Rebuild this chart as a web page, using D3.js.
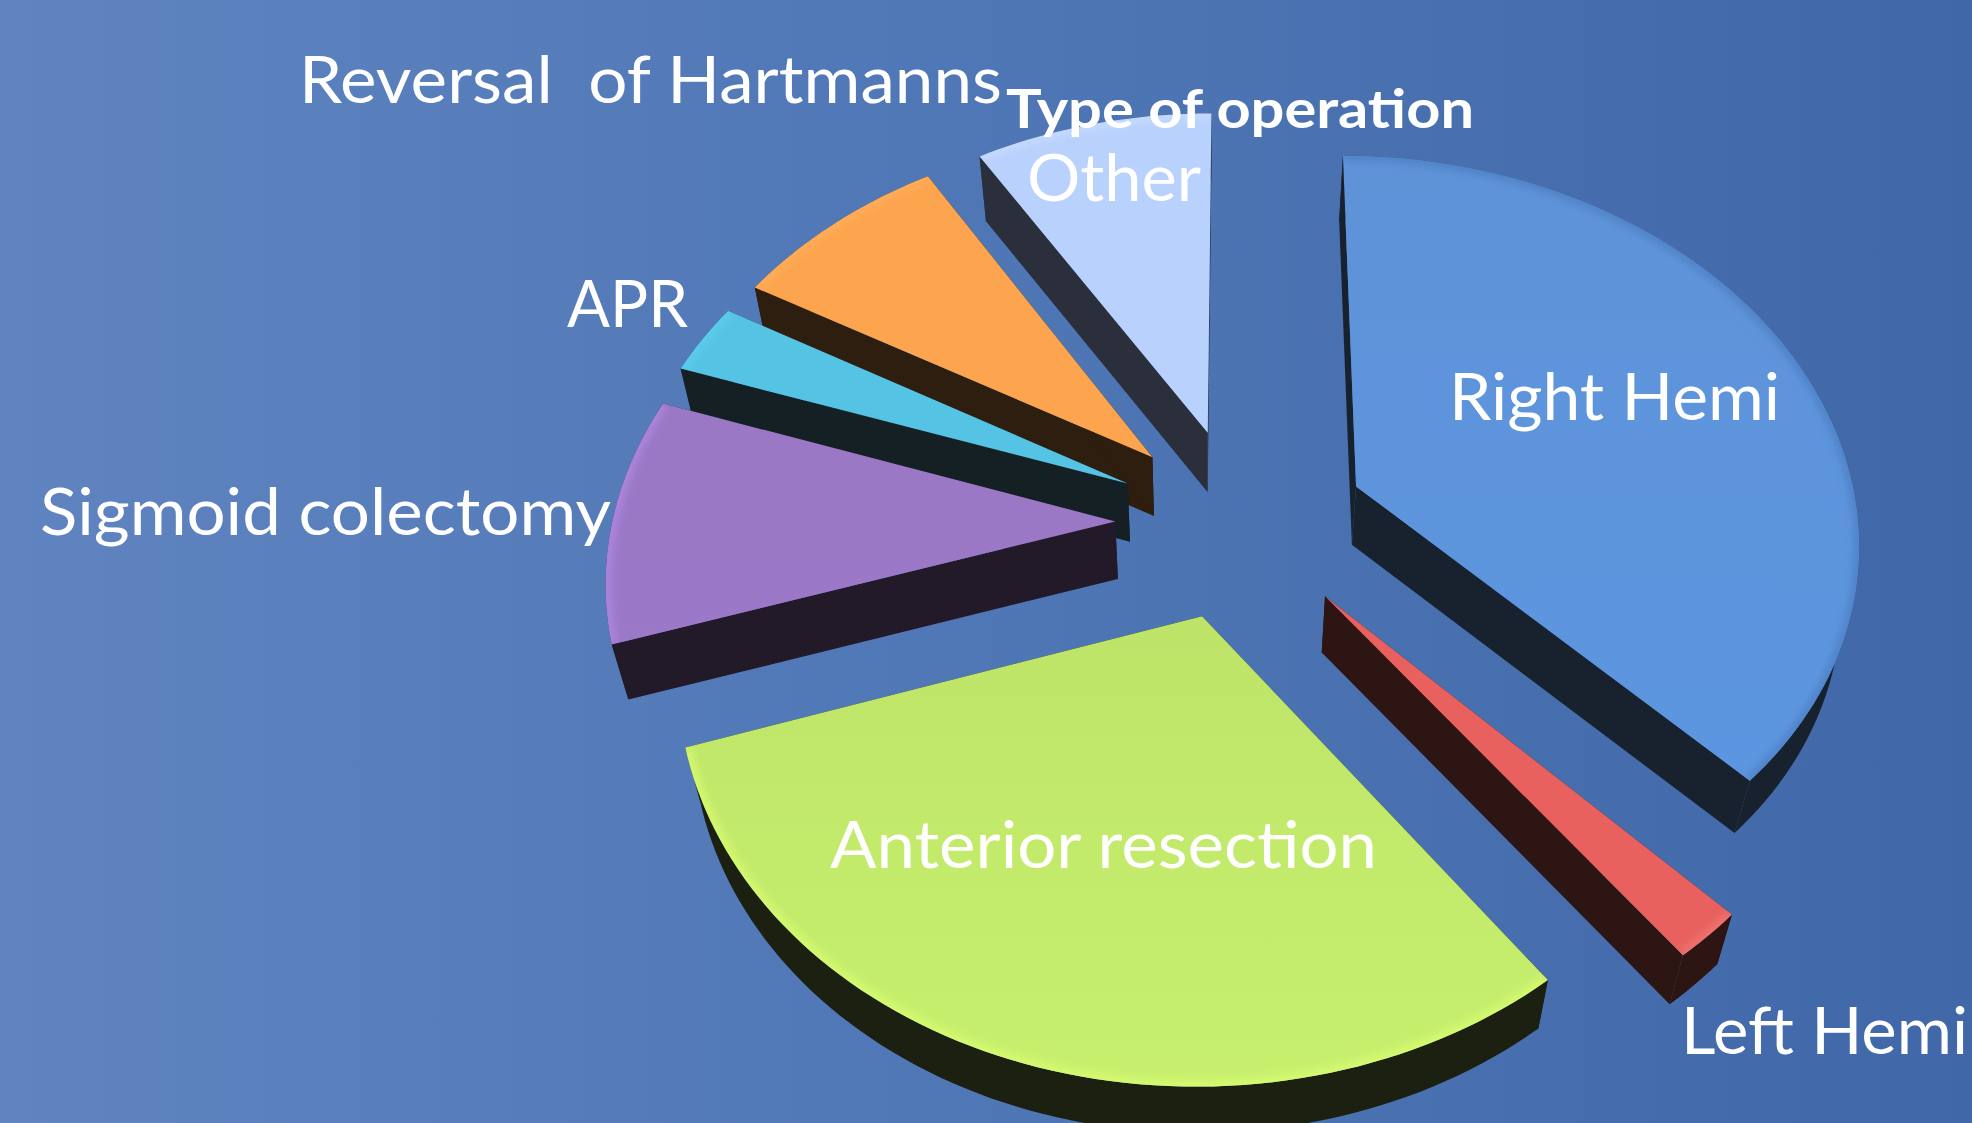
<!DOCTYPE html>
<html>
<head>
<meta charset="utf-8">
<script src="https://cdn.jsdelivr.net/npm/d3@7"></script>
<style>
html, body { margin: 0; padding: 0; background: #4f76b5; }
svg { display: block; }
text { fill: #fff; font-family: Lato, "Open Sans", sans-serif; white-space: pre; }
</style>
</head>
<body>
<svg id="chart" width="1972" height="1123"></svg>
<script>
var chartTitle = "Type of operation";
var categories = ["Right Hemi", "Left Hemi", "Anterior resection", "Sigmoid colectomy", "APR", "Reversal  of Hartmanns", "Other"];
var values = [37.7, 2, 30.3, 10.2, 3, 8, 8.8];

var topColors = ["#5f93d8", "#e8615f", "#bde468", "#9a78c4", "#55c3e4", "#fda44e", "#b9d1fd"];
var lowColors = ["#5c96e0", "#e8615f", "#c8f06e", "#9c78c8", "#55c3e4", "#fda44e", "#b9d1fd"];
var rimColors = ["#4a7cc0", "#f07a74", "#dcff70", "#b48ae8", "#5fd0f0", "#ffb060", "#c8dcff"];
var wallColors = ["#18222f", "#2d1514", "#1b2011", "#221a29", "#152024", "#2e1e0f", "#2a2f3b"];

var width = 1972, height = 1123;
var cx = 1241, cy = 522, scaleU = 503, scaleV = 382.5, persp = 0.13;
var explode = 0.25;
var vanishX = 1207, wallScaleX = 0.972, wallScaleY = 0.98, wallShift = 68;

// order slices are painted in, back to front
var paintOrder = [6, 5, 4, 3, 0, 1, 2];

// [x, baseline, width] of each label, same order as categories
var labelBox = [
    [1449, 420, 331], [1681, 1054, 287], [830, 868, 547],
    [40, 535, 571], [567, 327, 121], [299, 103, 703], [1027, 201, 174]
];

var svg = d3.select("#chart");
var defs = svg.append("defs");

var bg = defs.append("linearGradient").attr("id", "bg")
    .attr("x1", 0).attr("y1", 0).attr("x2", 1).attr("y2", 0);
bg.append("stop").attr("offset", 0).attr("stop-color", "#5f84c0");
bg.append("stop").attr("offset", 0.5).attr("stop-color", "#4f76b5");
bg.append("stop").attr("offset", 1).attr("stop-color", "#4067a7");

defs.append("filter").attr("id", "soft")
    .append("feGaussianBlur").attr("stdDeviation", 4);

svg.append("rect").attr("width", width).attr("height", height).attr("fill", "url(#bg)");

var pie = d3.pie().sort(null).value(function(d){ return d; })
    .startAngle(0).endAngle(2 * Math.PI);
var arcs = pie(values);
var line = d3.line();

// plane of the pie to screen, angle runs clockwise from up
function project(u, v){
    var w = 1 - persp * v;
    return [cx + scaleU * u / w, cy + scaleV * v / w];
}
function toBottom(p){
    return [vanishX + (p[0] - vanishX) * wallScaleX, wallScaleY * p[1] + wallShift];
}
function slicePoints(d){
    var mid = (d.startAngle + d.endAngle) / 2,
        ox = explode * Math.sin(mid),
        oy = -explode * Math.cos(mid),
        n = Math.max(4, Math.ceil((d.endAngle - d.startAngle) * 40)),
        pts = [];
    for (var i = 0; i <= n; i++) {
        var a = d.startAngle + (d.endAngle - d.startAngle) * i / n;
        pts.push(project(ox + Math.sin(a), oy - Math.cos(a)));
    }
    return { apex: project(ox, oy), rim: pts };
}

paintOrder.forEach(function(i){
    var s = slicePoints(arcs[i]),
        rim = s.rim,
        bRim = rim.map(toBottom),
        face = [s.apex].concat(rim),
        g = svg.append("g").attr("class", "slice");

    // walls: outer band, then the two cut sides
    g.append("path")
        .attr("d", line(rim.concat(bRim.slice().reverse())) + "Z")
        .attr("fill", wallColors[i]);
    [rim[0], rim[rim.length - 1]].forEach(function(p){
        g.append("path")
            .attr("d", line([s.apex, p, toBottom(p), toBottom(s.apex)]) + "Z")
            .attr("fill", wallColors[i]);
    });

    var grad = defs.append("linearGradient").attr("id", "face" + i)
        .attr("x1", 0).attr("y1", 0).attr("x2", 0).attr("y2", 1);
    grad.append("stop").attr("offset", 0).attr("stop-color", topColors[i]);
    grad.append("stop").attr("offset", 1).attr("stop-color", lowColors[i]);

    defs.append("clipPath").attr("id", "clip" + i)
        .append("path").attr("d", line(face) + "Z");

    g.append("path")
        .attr("d", line(face) + "Z")
        .attr("fill", "url(#face" + i + ")");

    // lighter bevel along the outer edge
    g.append("g").attr("clip-path", "url(#clip" + i + ")")
        .append("path")
        .attr("d", line(rim))
        .attr("fill", "none")
        .attr("stroke", rimColors[i])
        .attr("stroke-width", 10)
        .attr("stroke-opacity", 0.8)
        .attr("filter", "url(#soft)");
});

svg.append("g").selectAll("text")
    .data(categories)
    .enter()
    .append("text")
    .attr("x", function(d, i){ return labelBox[i][0]; })
    .attr("y", function(d, i){ return labelBox[i][1]; })
    .attr("textLength", function(d, i){ return labelBox[i][2]; })
    .attr("lengthAdjust", "spacingAndGlyphs")
    .style("font-size", "66px")
    .text(function(d){ return d; });

svg.append("text")
    .attr("x", 1006).attr("y", 128)
    .attr("textLength", 468)
    .attr("lengthAdjust", "spacingAndGlyphs")
    .style("font-size", "53px")
    .style("font-weight", "bold")
    .text(chartTitle);
</script>
</body>
</html>
